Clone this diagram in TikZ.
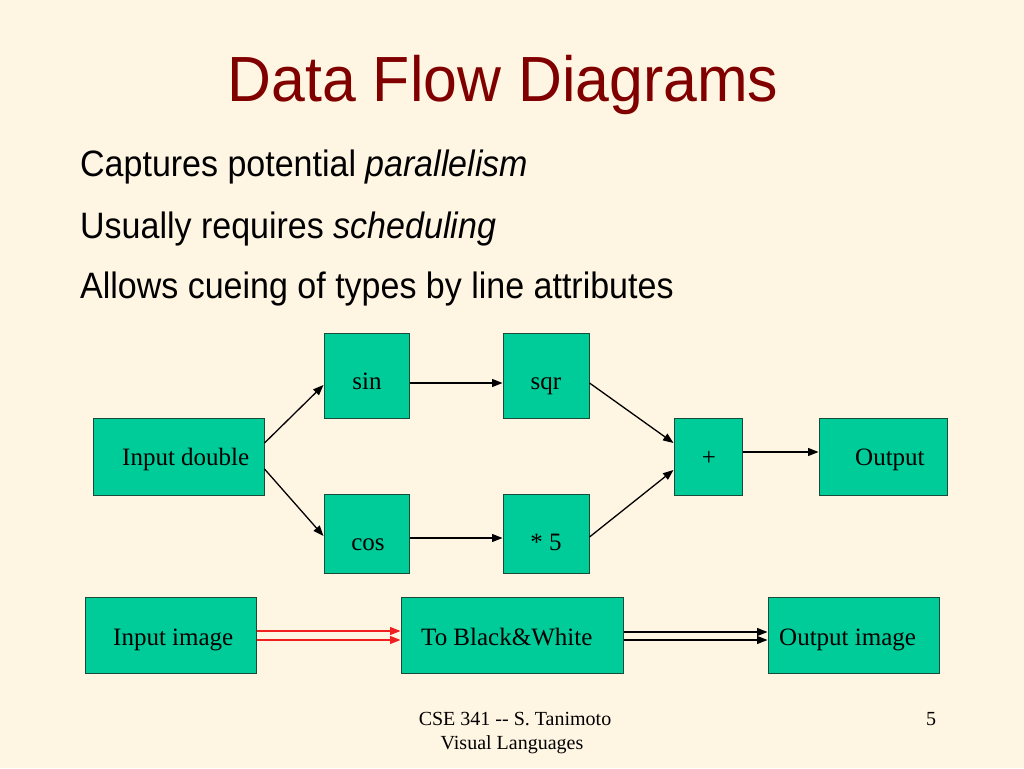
\documentclass[tikz,border=0pt]{standalone}
\usepackage{fontspec}
\setmainfont{Liberation Serif}
\newfontfamily\slidesans{Liberation Sans}
\usetikzlibrary{arrows.meta}
\definecolor{slidebg}{HTML}{FFF5E3}
\definecolor{boxfill}{HTML}{00CC99}
\definecolor{boxline}{HTML}{1A4A3A}
\definecolor{titlered}{HTML}{800000}
\definecolor{flowred}{HTML}{F02020}
\tikzset{
  box/.style={draw=boxline, line width=1pt, fill=boxfill, rectangle, inner sep=0pt},
  lbl/.style={inner sep=0pt, anchor=base, font=\fontsize{25}{28}\selectfont},
  lbll/.style={inner sep=0pt, anchor=base west, font=\fontsize{25}{28}\selectfont},
  flow/.style={line width=1.3pt, -{Triangle[length=10.5pt,width=8pt]}},
  redflow/.style={flow, draw=flowred, -{Triangle[length=10.5pt,width=8pt,fill=flowred]}},
  bullet/.style={inner sep=0pt, anchor=base west, font=\slidesans\fontsize{34}{40}\selectfont},
  foot/.style={inner sep=0pt, anchor=base, font=\fontsize{20}{24}\selectfont}
}
\begin{document}
\begin{tikzpicture}[x=1pt,y=-1pt]
\fill[slidebg] (0,0) rectangle (1024,768);
\useasboundingbox (0,0) rectangle (1024,768);
% title and bullets
\node[inner sep=0pt, anchor=base, text=titlered, font=\slidesans\fontsize{62}{70}\selectfont] (title) at (503,101) {\scalebox{0.98}[1.03]{Data Flow Diagrams}};
\node[bullet] (b1) at (80,176) {\scalebox{1}[1.08]{Captures potential \textit{parallelism}}};
\node[bullet] (b2) at (80,238) {\scalebox{1}[1.08]{Usually requires \textit{scheduling}}};
\node[bullet] (b3) at (80,298) {\scalebox{1}[1.08]{Allows cueing of types by line attributes}};
% boxes
\node[box, minimum width=171pt, minimum height=77pt] (din) at (178.5,456.5) {};
\node[box, minimum width=85pt, minimum height=85pt] (sin) at (366.5,375.5) {};
\node[box, minimum width=86pt, minimum height=85pt] (sqr) at (546,375.5) {};
\node[box, minimum width=85pt, minimum height=79pt] (cos) at (366.5,533.5) {};
\node[box, minimum width=86pt, minimum height=79pt] (five) at (546,533.5) {};
\node[box, minimum width=68pt, minimum height=77pt] (plus) at (708,456.5) {};
\node[box, minimum width=128pt, minimum height=77pt] (out) at (883,456.5) {};
\node[box, minimum width=171pt, minimum height=76pt] (inimg) at (170.5,635) {};
\node[box, minimum width=222pt, minimum height=76pt] (bw) at (512,635) {};
\node[box, minimum width=171pt, minimum height=76pt] (outimg) at (853.5,635) {};
% box texts
\node[lbll] (tdin) at (122,465) {Input double};
\node[lbl] (tsin) at (367,389) {sin};
\node[lbl] (tsqr) at (546,389) {sqr};
\node[lbl] (tcos) at (368,550) {cos};
\node[lbl] (tfive) at (546,550) {* 5};
\node[lbl] (tplus) at (709,465) {+};
\node[lbll] (tout) at (855,465) {Output};
\node[lbll] (tinimg) at (113,645) {Input image};
\node[lbll] (tbw) at (421,645) {To Black\&White};
\node[lbll] (toutimg) at (779,645) {Output image};
% connectors
\draw[flow] ([yshift=13.5pt]din.east) -- ([yshift=-9.5pt]sin.west);
\draw[flow] ([yshift=-12.5pt]din.east) -- ([yshift=-2.5pt]cos.west);
\draw[flow] ([yshift=-7.5pt]sin.east) -- ([yshift=-7.5pt]sqr.west);
\draw[flow] ([yshift=-4.5pt]cos.east) -- ([yshift=-4.5pt]five.west);
\draw[flow] ([yshift=-7.5pt]sqr.east) -- ([yshift=13.5pt]plus.west);
\draw[flow] ([yshift=-3.5pt]five.east) -- ([yshift=-13.5pt]plus.west);
\draw[flow] ([yshift=4.5pt]plus.east) -- ([yshift=4.5pt]out.west);
\draw[redflow] ([yshift=4pt]inimg.east) -- ([yshift=4pt]bw.west);
\draw[redflow] ([yshift=-5pt]inimg.east) -- ([yshift=-5pt]bw.west);
\draw[flow] ([yshift=3pt]bw.east) -- ([yshift=3pt]outimg.west);
\draw[flow] ([yshift=-5pt]bw.east) -- ([yshift=-5pt]outimg.west);
% footer
\node[foot] (f1) at (515,725) {CSE 341 -{}- S. Tanimoto};
\node[foot] (f2) at (512,749) {Visual Languages};
\node[foot] (f3) at (931,725) {5};
\end{tikzpicture}
\end{document}
